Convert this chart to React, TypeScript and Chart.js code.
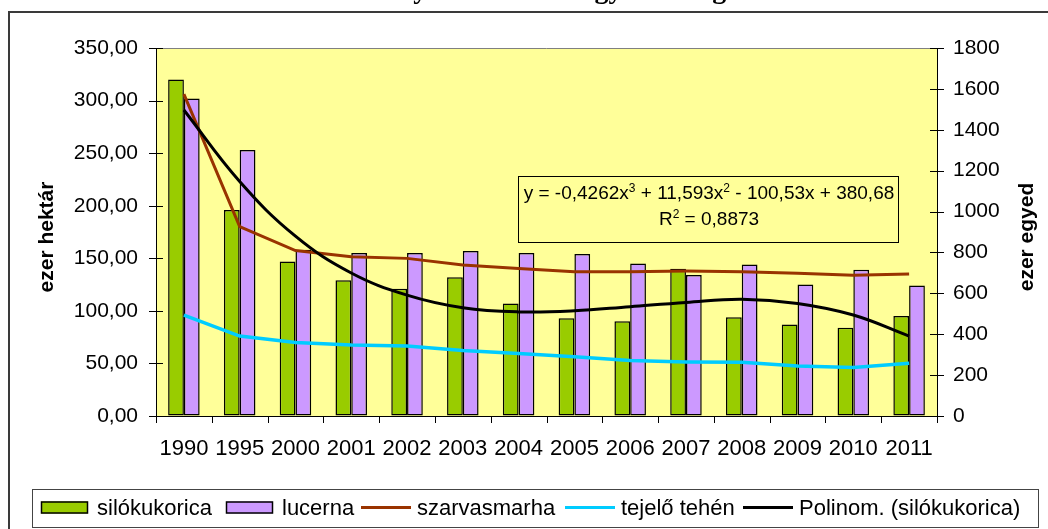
import { useEffect, useRef } from "react";
import { Chart, registerables } from "chart.js";

Chart.register(...registerables);

// ---- data ----
const years = ["1990", "1995", "2000", "2001", "2002", "2003", "2004", "2005", "2006", "2007", "2008", "2009", "2010", "2011"];
const silokukorica = [320, 196, 147, 129, 121, 132, 107, 93, 90, 140, 94, 87, 84, 95];
const lucerna = [302, 253, 158, 155, 155, 157, 155, 154, 145, 134, 144, 125, 139, 124];
const szarvasmarha = [1574, 926, 809, 779, 771, 739, 722, 706, 706, 709, 706, 698, 688, 695];
const tejeloTehen = [493, 391, 359, 347, 342, 320, 306, 290, 271, 264, 263, 245, 237, 258];
const polinomSilo = [291, 223, 171, 136, 115, 103, 99, 100, 104, 108, 111, 107, 96, 76];

const seriesNames = ["silókukorica", "lucerna", "szarvasmarha", "tejelő tehén", "Polinom. (silókukorica)"];
const leftAxisTitle = "ezer hektár";
const rightAxisTitle = "ezer egyed";
const chartTitle = "Takarmány és állatok Magyarországon";
const equationParts: [string, boolean][] = [
  ["y = -0,4262x", false],
  ["3", true],
  [" + 11,593x", false],
  ["2", true],
  [" - 100,53x + 380,68", false],
];
const r2Parts: [string, boolean][] = [
  ["R", false],
  ["2", true],
  [" = 0,8873", false],
];
const leftMin = 0, leftMax = 350, leftStep = 50;
const rightMin = 0, rightMax = 1800, rightStep = 200;

const SANS = "'Liberation Sans', Arial, sans-serif";
const SERIF = "'Liberation Serif', 'Times New Roman', serif";
const legendItemX = [41, 226, 361, 565, 743];

function drawParts(ctx: CanvasRenderingContext2D, parts: [string, boolean][], cx: number, cy: number, size: number) {
  const supSize = Math.round(size * 0.62);
  let total = 0;
  const widths = parts.map(([t, sup]) => {
    ctx.font = `${sup ? supSize : size}px ${SANS}`;
    const w = ctx.measureText(t).width;
    total += w;
    return w;
  });
  let x = cx - total / 2;
  ctx.textBaseline = "middle";
  ctx.textAlign = "left";
  parts.forEach(([t, sup], i) => {
    ctx.font = `${sup ? supSize : size}px ${SANS}`;
    ctx.fillText(t, x, sup ? cy - size * 0.28 : cy);
    x += widths[i];
  });
}

const decorPlugin = {
  id: "decor",
  beforeDraw(chart: any) {
    const { ctx, chartArea: a } = chart;
    ctx.save();
    ctx.fillStyle = "#ffffff";
    ctx.fillRect(0, 0, chart.width, chart.height);
    // outer frame (continues past the picture's edges)
    ctx.fillStyle = "#3a3a3a";
    ctx.fillRect(8, 11, 2, chart.height);
    ctx.fillRect(8, 11, chart.width, 2);
    // plot background
    ctx.fillStyle = "#ffff99";
    ctx.fillRect(a.left, a.top, a.right - a.left, a.bottom - a.top);
    ctx.strokeStyle = "#808080";
    ctx.lineWidth = 1;
    ctx.beginPath();
    ctx.moveTo(a.left, a.top + 0.5);
    ctx.lineTo(a.right, a.top + 0.5);
    ctx.stroke();
    ctx.restore();
  },
  afterDraw(chart: any) {
    const { ctx, chartArea: a } = chart;
    const xs = chart.scales.x;
    const yl = chart.scales.y;
    const yr = chart.scales.y1;
    ctx.save();
    ctx.strokeStyle = "#000";
    ctx.lineWidth = 1;
    ctx.beginPath();
    yl.ticks.forEach((t: any) => {
      const y = Math.round(yl.getPixelForValue(t.value)) + 0.5;
      ctx.moveTo(a.left - 7, y);
      ctx.lineTo(a.left + 7, y);
    });
    yr.ticks.forEach((t: any) => {
      const y = Math.round(yr.getPixelForValue(t.value)) + 0.5;
      ctx.moveTo(a.right - 7, y);
      ctx.lineTo(a.right + 7, y);
    });
    for (let i = 0; i <= years.length; i++) {
      const x = Math.round(xs.getPixelForValue(i - 0.5)) + 0.5;
      ctx.moveTo(x, a.bottom);
      ctx.lineTo(x, a.bottom + 7);
    }
    ctx.stroke();

    // axis titles
    ctx.fillStyle = "#000";
    ctx.font = `bold 21px ${SANS}`;
    ctx.textAlign = "center";
    ctx.textBaseline = "middle";
    ctx.save();
    ctx.translate(47, 237);
    ctx.rotate(-Math.PI / 2);
    ctx.fillText(leftAxisTitle, 0, 0);
    ctx.restore();
    ctx.save();
    ctx.translate(1027, 237);
    ctx.rotate(-Math.PI / 2);
    ctx.fillText(rightAxisTitle, 0, 0);
    ctx.restore();

    // clipped title
    ctx.font = `bold 28px ${SERIF}`;
    ctx.textAlign = "center";
    ctx.textBaseline = "alphabetic";
    ctx.fillText(chartTitle, 522, -2.5);

    // trendline equation box
    ctx.strokeStyle = "#000";
    ctx.lineWidth = 1;
    ctx.strokeRect(518.5, 176.5, 380, 66);
    ctx.fillStyle = "#000";
    drawParts(ctx, equationParts, 709, 194, 19);
    drawParts(ctx, r2Parts, 709, 220, 19);

    // legend
    ctx.fillStyle = "#ffffff";
    ctx.fillRect(32, 489, 1006, 38);
    ctx.strokeStyle = "#444";
    ctx.lineWidth = 1;
    ctx.strokeRect(32.5, 489.5, 1006, 38);
    const ds = chart.data.datasets;
    const cy = 507.5;
    ctx.textAlign = "left";
    ctx.textBaseline = "middle";
    ds.forEach((d: any, i: number) => {
      const x = legendItemX[i];
      let tx = x;
      if (d.type === "bar") {
        ctx.fillStyle = d.backgroundColor;
        ctx.fillRect(x, cy - 6, 47, 12);
        ctx.strokeStyle = "#000";
        ctx.lineWidth = 1.5;
        ctx.strokeRect(x + 0.5, cy - 5.5, 46, 11);
        tx = x + 56;
      } else {
        ctx.strokeStyle = d.borderColor;
        ctx.lineWidth = 3;
        ctx.beginPath();
        ctx.moveTo(x, cy);
        ctx.lineTo(x + 50, cy);
        ctx.stroke();
        tx = x + 56;
      }
      ctx.fillStyle = "#000";
      ctx.font = `22px ${SANS}`;
      ctx.fillText(d.label, tx, cy + 1);
    });
    ctx.restore();
  },
};

export default function App() {
  const ref = useRef<HTMLCanvasElement | null>(null);
  useEffect(() => {
    if (!ref.current) return;
    const tickFont = { family: SANS, size: 21 };
    const xFont = { family: SANS, size: 22 };
    const chart = new Chart(ref.current, {
      type: "bar",
      data: {
        labels: years,
        datasets: [
          {
            type: "bar",
            label: seriesNames[0],
            data: silokukorica,
            backgroundColor: "#99cc00",
            borderColor: "#000",
            borderWidth: 1.5,
            borderSkipped: false,
            yAxisID: "y",
            order: 2,
            categoryPercentage: 0.565,
            barPercentage: 1,
          },
          {
            type: "bar",
            label: seriesNames[1],
            data: lucerna,
            backgroundColor: "#cc99ff",
            borderColor: "#000",
            borderWidth: 1.5,
            borderSkipped: false,
            yAxisID: "y",
            order: 2,
            categoryPercentage: 0.565,
            barPercentage: 1,
          },
          {
            type: "line",
            label: seriesNames[2],
            data: szarvasmarha,
            borderColor: "#993300",
            borderWidth: 3,
            pointRadius: 0,
            tension: 0,
            yAxisID: "y1",
            order: 1,
          },
          {
            type: "line",
            label: seriesNames[3],
            data: tejeloTehen,
            borderColor: "#00ccff",
            borderWidth: 3.5,
            pointRadius: 0,
            tension: 0,
            yAxisID: "y1",
            order: 1,
          },
          {
            type: "line",
            label: seriesNames[4],
            data: polinomSilo,
            borderColor: "#000000",
            borderWidth: 3,
            pointRadius: 0,
            tension: 0.4,
            yAxisID: "y",
            order: 0,
          },
        ] as any,
      },
      options: {
        responsive: false,
        animation: false,
        layout: { padding: { top: 48, left: 0, right: 0, bottom: 0 } },
        plugins: {
          legend: { display: false },
          tooltip: { enabled: false },
          title: { display: false },
        },
        scales: {
          x: {
            grid: { display: true, color: "transparent", drawOnChartArea: false, tickLength: 8, offset: true },
            border: { display: true, color: "#000", width: 1 },
            ticks: { font: xFont, color: "#000", padding: 12, maxRotation: 0, autoSkip: false },
            afterFit: (s: any) => { s.height = 113; },
          },
          y: {
            position: "left",
            min: leftMin,
            max: leftMax,
            grid: { display: true, color: "transparent", drawOnChartArea: false, tickLength: 8 },
            border: { display: true, color: "#000", width: 1 },
            ticks: {
              stepSize: leftStep,
              font: tickFont,
              color: "#000",
              padding: 10,
              callback: (v: any) => Number(v).toFixed(2).replace(".", ","),
            },
            afterFit: (s: any) => { s.width = 156; },
          },
          y1: {
            position: "right",
            min: rightMin,
            max: rightMax,
            grid: { display: true, color: "transparent", drawOnChartArea: false, tickLength: 8 },
            border: { display: true, color: "#000", width: 1 },
            ticks: {
              stepSize: rightStep,
              font: tickFont,
              color: "#000",
              padding: 8,
              callback: (v: any) => String(Math.round(Number(v))),
            },
            afterFit: (s: any) => { s.width = 111; },
          },
        } as any,
      },
      plugins: [decorPlugin],
    });
    return () => chart.destroy();
  }, []);
  return (
    <div style={{ position: "fixed", left: 0, top: 0, width: 1048, height: 529, overflow: "hidden", background: "#fff" }}>
      <canvas ref={ref} width={1048} height={529} style={{ display: "block", width: 1048, height: 529 }} />
    </div>
  );
}
